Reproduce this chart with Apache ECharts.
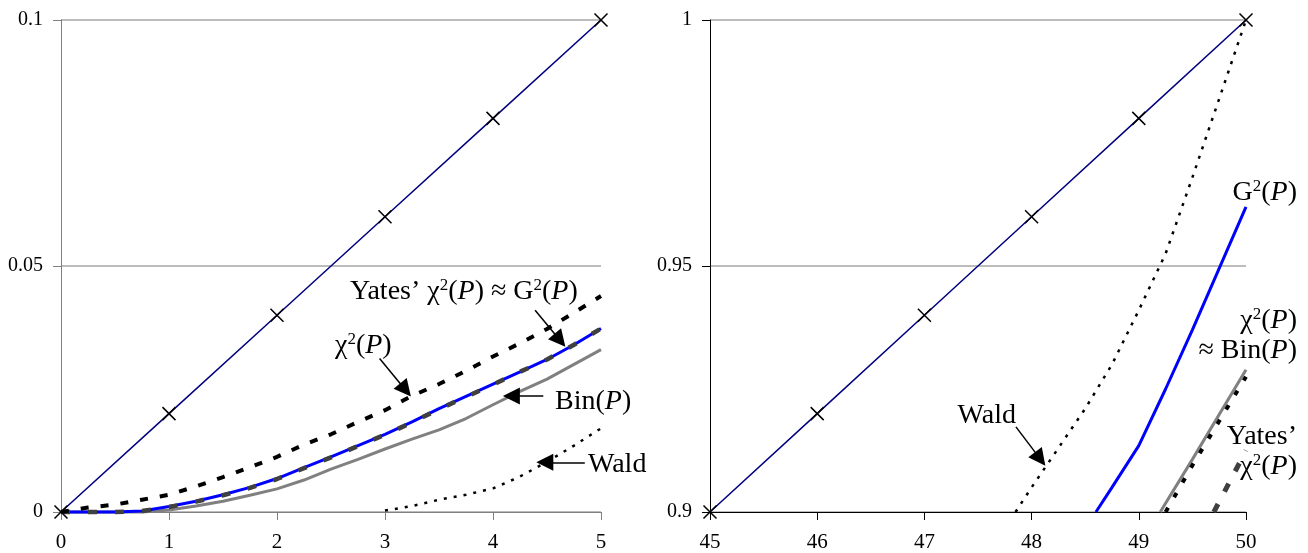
<!DOCTYPE html>
<html><head><meta charset="utf-8">
<script src="https://cdn.jsdelivr.net/npm/echarts@6/dist/echarts.min.js"></script>
<style>html,body{margin:0;padding:0;background:#fff}#c{width:1308px;height:553px}</style>
</head><body><div id="c"></div>
<script>
// ---------- Left panel data ----------
const diagLX = [0, 1, 2, 3, 4, 5];
const diagLY = [0, 0.02, 0.04, 0.06, 0.08, 0.1];
const leftX = [0,0.25,0.5,0.75,1,1.25,1.5,1.75,2,2.25,2.5,2.75,3,3.25,3.5,3.75,4,4.25,4.5,4.75,5];
const g2L    = [0,0,0,0.0002,0.0011,0.0022,0.0035,0.005,0.0068,0.009,0.0112,0.0135,0.0158,0.0183,0.021,0.0235,0.026,0.0285,0.031,0.034,0.0373];
const yatesL = [0,0,0,0.0002,0.001,0.0021,0.0034,0.0049,0.0067,0.0089,0.0111,0.0134,0.0157,0.0182,0.0209,0.0234,0.0259,0.0285,0.031,0.034,0.0373];
const chi2L  = [0,0.0009,0.0015,0.0025,0.0035,0.0052,0.0071,0.0091,0.0112,0.0137,0.0158,0.0183,0.0207,0.0236,0.026,0.0287,0.0316,0.0343,0.0372,0.0405,0.0439];
const binL   = [0,0,0,0,0.0004,0.0012,0.0022,0.0034,0.0047,0.0065,0.0087,0.0107,0.0128,0.0148,0.0167,0.019,0.0218,0.0245,0.027,0.03,0.033];
const waldL  = [null,null,null,null,null,null,null,null,null,null,null,null,0.0003,0.0012,0.0025,0.0035,0.0048,0.0072,0.0102,0.0135,0.017];
const leftXTicks = [0, 1, 2, 3, 4, 5];
const leftYTicks = [0, 0.05, 0.1];

// ---------- Right panel data ----------
const diagRX = [45, 46, 47, 48, 49, 50];
const diagRY = [0.9, 0.92, 0.94, 0.96, 0.98, 1.0];
const g2RX   = [48.6, 48.75, 49, 49.25, 49.5, 49.75, 50];
const g2R    = [0.9, 0.905, 0.9135, 0.925, 0.937, 0.9495, 0.962];
const waldRX = [47.85, 48, 48.25, 48.5, 48.75, 49, 49.25, 49.5, 49.75, 50];
const waldR  = [0.9, 0.905, 0.913, 0.921, 0.93, 0.941, 0.9525, 0.968, 0.984, 1.0];
const binRX  = [49.2, 49.5, 49.75, 50];
const binR   = [0.9, 0.9107, 0.9198, 0.9289];
const chi2RX = [49.25, 49.5, 49.75, 50];
const chi2R  = [0.9, 0.9095, 0.9185, 0.9275];
const yatesRX = [49.7, 50];
const yatesR  = [0.9, 0.9125];
const rightXTicks = [45, 46, 47, 48, 49, 50];
const rightYTicks = [0.9, 0.95, 1];

// ---------- Annotation arrows (data coords: from -> to) ----------
const arrowsL = [
  [[4.39, 0.041], [4.62, 0.0349]],
  [[2.95, 0.0312], [3.19, 0.0248]],
  [[4.466, 0.0236], [4.17, 0.0236]],
  [[4.85, 0.0101], [4.48, 0.0101]]
];
const arrowsR = [
  [[47.854, 0.9173], [48.08, 0.9108]]
];

const pairs = (xs, ys) => xs.map((x, i) => [x, ys[i]]);
const FONT = 'Liberation Serif';
const cross = 'path://M0,0L10,10M10,0L0,10';

function axisX(idx, min, max, col) {
  return {
    type: 'value', gridIndex: idx, min: min, max: max, interval: 1,
    axisLine: {show: true, onZero: false, lineStyle: {color: col, width: 1}},
    axisTick: {show: true, length: 8, lineStyle: {color: col}},
    splitLine: {show: false},
    axisLabel: {fontFamily: FONT, fontSize: 21, color: '#000', margin: 20}
  };
}
function axisY(idx, min, max, col, ticks) {
  return {
    type: 'value', gridIndex: idx, min: min, max: max, interval: 0.05,
    axisLine: {show: true, onZero: false, lineStyle: {color: col, width: 1}},
    axisTick: {show: true, length: 8, lineStyle: {color: col}},
    splitLine: {show: true, lineStyle: {color: '#a6a6a6', width: 1.5}},
    axisLabel: {fontFamily: FONT, fontSize: 20, color: '#000', margin: 18,
      formatter: v => { const t = ticks.find(k => Math.abs(k - v) < 1e-9); return t === undefined ? '' : String(t); }}
  };
}
function lineS(idx, data, color, width, type, z) {
  return {type: 'line', xAxisIndex: idx, yAxisIndex: idx, data: data, showSymbol: false, symbol: 'none',
    connectNulls: false, clip: false, z: z,
    lineStyle: {color: color, width: width, type: type, cap: 'butt'}};
}
function arrowML(list) {
  return {
    silent: true, animation: false,
    symbol: ['none', 'triangle'], symbolSize: 17,
    label: {show: false},
    lineStyle: {color: '#000', width: 1.5, type: 'solid'},
    emphasis: {disabled: true},
    data: list.map(a => [{coord: a[0]}, {coord: a[1]}])
  };
}

const diagL = lineS(0, pairs(diagLX, diagLY), '#000080', 1.5, 'solid', 3);
diagL.showSymbol = true; diagL.symbol = cross; diagL.symbolSize = 13;
diagL.itemStyle = {color: 'none', borderColor: '#000', borderWidth: 1.5};
diagL.markLine = arrowML(arrowsL);
const diagR = lineS(1, pairs(diagRX, diagRY), '#000080', 1.5, 'solid', 3);
diagR.showSymbol = true; diagR.symbol = cross; diagR.symbolSize = 13;
diagR.itemStyle = {color: 'none', borderColor: '#000', borderWidth: 1.5};
diagR.markLine = arrowML(arrowsR);

const chart = echarts.init(document.getElementById('c'), null, {renderer: 'canvas'});
const sup = {fontFamily: FONT, fontSize: 17, verticalAlign: 'top', lineHeight: 30, color: '#000'};
const n = {fontFamily: FONT, fontSize: 28, lineHeight: 30, color: '#000'};
const it = {fontFamily: FONT, fontSize: 28, fontStyle: 'italic', lineHeight: 30, color: '#000'};
const rich = {n: n, s: sup, i: it};
function txt(x, y, text, align) {
  return {type: 'text', x: x, y: y, silent: true, z: 10,
    style: {text: text, rich: rich, fill: '#000', font: '28px ' + FONT, align: align || 'left', verticalAlign: 'middle', lineHeight: 30}};
}
const chiP = '{n|χ}{s|2}{n|(}{i|P}{n|)}';
const gP = '{n|G}{s|2}{n|(}{i|P}{n|)}';

chart.setOption({
  animation: false,
  backgroundColor: '#fff',
  grid: [
    {left: 61, top: 20, width: 540, height: 493},
    {left: 710, top: 20, width: 536, height: 492}
  ],
  xAxis: [axisX(0, 0, 5, '#808080'), axisX(1, 45, 50, '#000')],
  yAxis: [axisY(0, 0, 0.1, '#808080', leftYTicks), axisY(1, 0.9, 1.0, '#000', rightYTicks)],
  series: [
    lineS(0, pairs(leftX, binL), '#808080', 3, 'solid', 2),
    lineS(0, pairs(leftX, g2L), '#0000ff', 3, 'solid', 2),
    lineS(0, pairs(leftX, yatesL), '#404040', 4.5, [9, 18], 4),
    lineS(0, pairs(leftX, chi2L), '#000', 4, [8, 12], 4),
    lineS(0, pairs(leftX, waldL), '#000', 2.5, [3, 7], 4),
    diagL,
    lineS(1, pairs(binRX, binR), '#808080', 3, 'solid', 2),
    lineS(1, pairs(g2RX, g2R), '#0000ff', 3, 'solid', 2),
    lineS(1, pairs(chi2RX, chi2R), '#000', 4, [5, 12], 4),
    lineS(1, pairs(yatesRX, yatesR), '#404040', 5, [9, 14], 4),
    lineS(1, pairs(waldRX, waldR), '#000', 2.5, [3, 7], 4),
    diagR
  ],
  graphic: [
    txt(350, 292, "{n|Yates’ }" + chiP + "{n| ≈ }" + gP),
    txt(335, 346, chiP),
    txt(555, 402, '{n|Bin(}{i|P}{n|)}'),
    txt(588, 465, '{n|Wald}'),
    txt(1297, 193, gP, 'right'),
    txt(1297, 336, chiP + '\n{n|≈ Bin(}{i|P}{n|)}', 'right'),
    txt(1297, 452, "{n|Yates’}\n" + chiP, 'right'),
    txt(1016, 416, '{n|Wald}', 'right')
  ]
});
</script></body></html>
